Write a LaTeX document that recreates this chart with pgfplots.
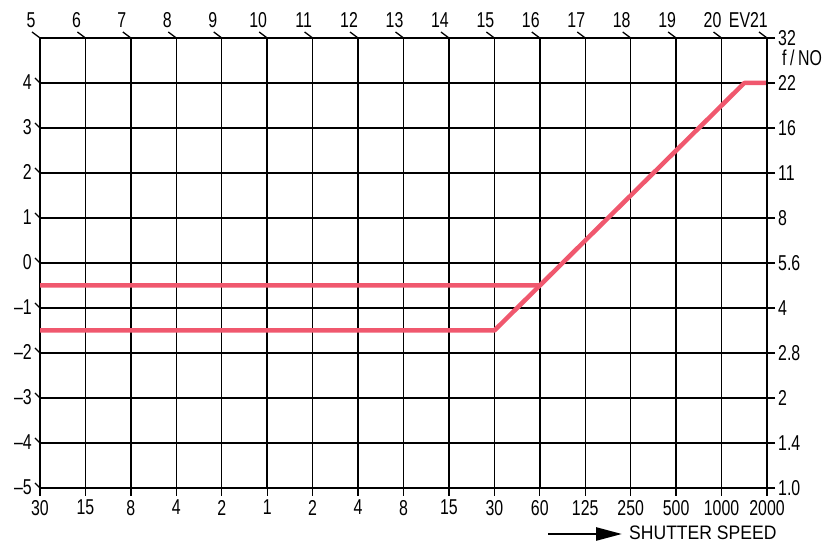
\documentclass[border=0pt]{standalone}
\usepackage{fontspec}
\setmainfont[FakeStretch=0.9]{Liberation Sans}
\newfontfamily\numfont[FakeStretch=0.74]{Liberation Sans}
\usepackage{pgfplots}
\usepackage{pgfplotstable}
\pgfplotsset{compat=1.18}
\usetikzlibrary{arrows.meta,calc}
\definecolor{prog}{RGB}{240,88,110}

\pgfplotstableread{
x y
0 -0.5
11 -0.5
15.5 4
16 4
}\progA
\pgfplotstableread{
x y
0 -1.5
10 -1.5
11 -0.5
}\progB

\begin{document}
\begin{tikzpicture}
\begin{axis}[name=ax, scale only axis, width=727pt, height=450pt,
  xmin=0, xmax=16, ymin=-5, ymax=5,
  axis line style={line width=2.4pt},
  grid=major, major grid style={black, line width=1.4pt},
  xtick={0,...,16},
  xticklabels={30,15,8,4,2,1,2,4,8,15,30,60,125,250,500,1000,2000},
  xtick pos=bottom, tick align=outside, major tick length=8pt,
  x tick style={black, line width=1.3pt},
  ytick={-5,...,5},
  yticklabels={–5,–4,–3,–2,–1,0,1,2,3,4,{}},
  ytick pos=left, y tick style={draw=none},
  ticklabel style={font=\fontsize{21.5}{21.5}\selectfont\numfont, inner sep=1pt},
  xticklabel style={yshift=-3pt},
  yticklabel style={xshift=1pt, yshift=1pt},
  /pgf/number format/assume math mode=true,
  clip=false,
]
\addplot[prog, line width=4.5pt, line join=round] table[x=x,y=y] {\progA};
\addplot[prog, line width=4.5pt, line join=round] table[x=x,y=y] {\progB};
\end{axis}
\begin{axis}[scale only axis, width=727pt, height=450pt,
  xmin=0, xmax=16, ymin=-5, ymax=5,
  hide x axis, axis y line*=right,
  axis line style={line width=2.4pt},
  ytick={-5,...,5},
  yticklabels={1.0,1.4,2,2.8,4,5.6,8,11,16,22,32},
  tick align=outside, major tick length=8pt,
  y tick style={black, line width=1.3pt},
  ticklabel style={font=\fontsize{21.5}{21.5}\selectfont\numfont, inner sep=1pt},
  yticklabel style={xshift=2pt},
  /pgf/number format/assume math mode=true,
]
\end{axis}
% top EV slashes and labels
\foreach \i/\lab in {0/5,1/6,2/7,3/8,4/9,5/10,6/11,7/12,8/13,9/14,10/15,11/16,12/17,13/18,14/19,15/20}{
  \draw[line width=1.3pt] ($(ax.north west)+(\i*45.4375pt,0)$) -- ++(-8pt,6pt);
  \node[anchor=south, inner sep=0pt, font=\fontsize{21.5}{21.5}\selectfont\numfont] at ($(ax.north west)+(\i*45.4375pt-9pt,10pt)$) {\lab};
}
\draw[line width=1.3pt] ($(ax.north east)$) -- ++(-8pt,6pt);
\node[anchor=south east, inner sep=0pt, font=\fontsize{21.5}{21.5}\selectfont\numfont] at ($(ax.north east)+(1pt,10pt)$) {EV21};
% left slashes
\foreach \j in {0,...,9}{
  \draw[line width=1.3pt] ($(ax.south west)+(0,\j*45pt)$) -- ++(-5pt,5pt);
}
% f/NO
\node[anchor=west, inner sep=0pt, font=\fontsize{21.5}{21.5}\selectfont\numfont] at ($(ax.north east)+(15pt,-20pt)$) {f\,/\,NO};
% shutter speed
\draw[line width=2.6pt, -{Triangle[length=26pt,width=13pt]}] ($(ax.south west)+(508pt,-46pt)$) -- ($(ax.south west)+(582pt,-46pt)$);
\node[anchor=west, inner sep=0pt, font=\fontsize{19.5}{19.5}\selectfont] at ($(ax.south west)+(589pt,-45pt)$) {SHUTTER SPEED};
\pgfresetboundingbox
\path[use as bounding box] ($(ax.south west)+(-40pt,-57pt)$) rectangle ($(ax.north east)+(65pt,38pt)$);
\end{tikzpicture}
\end{document}
